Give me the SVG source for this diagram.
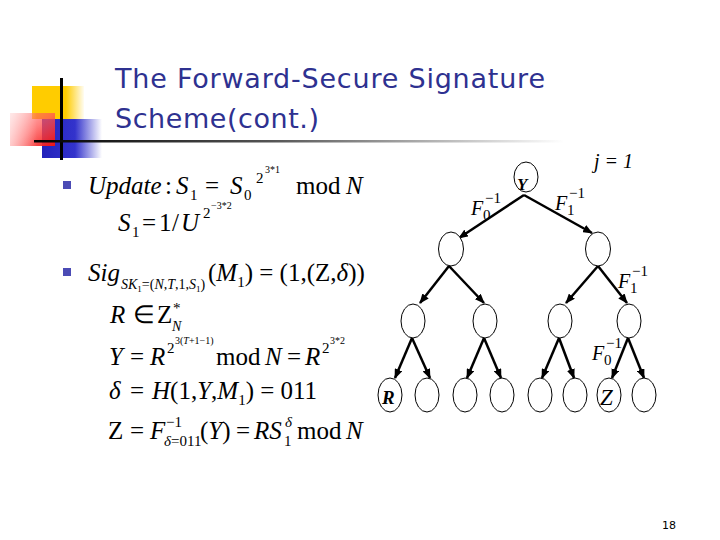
<svg xmlns="http://www.w3.org/2000/svg" width="720" height="540" viewBox="0 0 720 540">
<defs>
<linearGradient id="gY" x1="0" x2="1" y1="0" y2="0"><stop offset="0" stop-color="#ffcc00"/><stop offset="0.65" stop-color="#ffcc00"/><stop offset="1" stop-color="#ffcc00" stop-opacity="0.05"/></linearGradient>
<linearGradient id="gB" x1="0" x2="1" y1="0" y2="0"><stop offset="0" stop-color="#2222bb"/><stop offset="0.55" stop-color="#3333cc"/><stop offset="1" stop-color="#3333cc" stop-opacity="0"/></linearGradient>
<linearGradient id="gR" x1="0" x2="1" y1="0" y2="1"><stop offset="0" stop-color="#ff6666" stop-opacity="0.35"/><stop offset="0.5" stop-color="#ff5555" stop-opacity="0.75"/><stop offset="1" stop-color="#ee1111"/></linearGradient>
<linearGradient id="gR2" x1="0" x2="1" y1="0" y2="0"><stop offset="0" stop-color="#fff" stop-opacity="0.6"/><stop offset="0.6" stop-color="#fff" stop-opacity="0"/></linearGradient>
<linearGradient id="gL" x1="0" x2="1" y1="0" y2="0"><stop offset="0" stop-color="#000"/><stop offset="0.45" stop-color="#555"/><stop offset="1" stop-color="#fff"/></linearGradient>
<marker id="ah" viewBox="0 0 10 8" refX="9" refY="4" markerWidth="10" markerHeight="8" markerUnits="userSpaceOnUse" orient="auto"><path d="M0,0 L10,4 L0,8 z" fill="#000"/></marker>
<style>
.t{font-family:"Liberation Serif","Times New Roman",serif;font-size:25px;fill:#000}
.i{font-style:italic}
.s{font-size:15px}
.ss{font-size:10px}
.b{font-size:14px}
.e{fill:#fff;stroke:#000;stroke-width:1}
.c line{stroke:#000;stroke-width:2.5;marker-end:url(#ah)}
.lb{font-family:"Liberation Serif","Times New Roman",serif;font-size:20px;font-style:italic}
.title{font-family:"DejaVu Sans",Verdana,sans-serif;font-size:27px;fill:#2e3190}
</style>
</defs>
<rect width="720" height="540" fill="#fff"/>
<g id="logo">
<rect x="32" y="86" width="52" height="33" fill="url(#gY)"/>
<rect x="42" y="119" width="60" height="39" fill="url(#gB)"/>
<rect x="10" y="113" width="45" height="33" fill="url(#gR)"/>
<rect x="10" y="113" width="45" height="33" fill="url(#gR2)"/>
<rect x="60" y="78" width="3" height="82" fill="#000"/>
<rect x="34" y="140" width="530" height="2.5" fill="url(#gL)"/>
</g>
<g id="title">
<text class="title" x="115" y="88" textLength="430">The Forward-Secure Signature</text>
<text class="title" x="115" y="128" textLength="204">Scheme(cont.)</text>
</g>
<g id="formulas">
<rect x="63" y="181" width="8" height="8" fill="#4b4bb5"/>
<text class="t i" x="88" y="194">Update</text>
<text class="t" x="165" y="194">:</text>
<text class="t i" x="176" y="194">S</text><text class="t s" x="190" y="200">1</text>
<text class="t" x="205" y="194">=</text>
<text class="t i" x="230" y="194">S</text><text class="t s" x="244" y="200">0</text>
<text class="t s" x="256" y="183">2</text><text class="t ss" x="265" y="173">3*1</text>
<text class="t" x="296" y="194">mod</text>
<text class="t i" x="346" y="194">N</text>

<text class="t i" x="118" y="231">S</text><text class="t s" x="132" y="237">1</text>
<text class="t" x="142" y="231">=</text>
<text class="t" x="159" y="231">1</text>
<text class="t" x="172" y="231">/</text>
<text class="t i" x="181" y="231">U</text>
<text class="t s" x="203" y="218">2</text><text class="t ss" x="211" y="209">−3*2</text>

<rect x="63" y="268" width="8" height="8" fill="#4b4bb5"/>
<text class="t i" x="88" y="281">Sig</text>
<text class="t b" x="121" y="289"><tspan class="i">SK</tspan><tspan font-size="9" dy="3">1</tspan><tspan dy="-3">=(</tspan><tspan class="i">N</tspan>,<tspan class="i">T</tspan>,1,<tspan class="i">S</tspan><tspan font-size="9" dy="3">1</tspan><tspan dy="-3">)</tspan></text>
<text class="t" x="208" y="281">(<tspan class="i">M</tspan><tspan class="s" dy="6">1</tspan><tspan dy="-6">) = (1,(Z,</tspan><tspan class="i">δ</tspan>))</text>

<text class="t i" x="110" y="323">R</text>
<text class="t" x="133" y="323">∈</text>
<text class="t" x="157" y="323">Z</text>
<text class="t s" x="173" y="313">*</text>
<text class="t b i" x="172" y="331">N</text>

<text class="t i" x="109" y="365">Y</text>
<text class="t" x="130" y="365">=</text>
<text class="t i" x="150" y="365">R</text>
<text class="t s" x="167" y="353">2</text><text class="t ss" x="175" y="344">3(<tspan class="i">T</tspan>+1−1)</text>
<text class="t" x="216" y="365">mod</text>
<text class="t i" x="265" y="365">N</text>
<text class="t" x="287" y="365">=</text>
<text class="t i" x="305" y="365">R</text>
<text class="t s" x="322" y="353">2</text><text class="t ss" x="330" y="344">3*2</text>

<text class="t i" x="109" y="399">δ</text>
<text class="t" x="130" y="399">=</text>
<text class="t" x="152" y="399"><tspan class="i">H</tspan>(1,<tspan class="i">Y</tspan>,<tspan class="i">M</tspan><tspan class="s" dy="6">1</tspan><tspan dy="-6">) = 011</tspan></text>

<text class="t" x="108" y="439">Z</text>
<text class="t" x="130" y="439">=</text>
<text class="t i" x="150" y="439">F</text>
<text class="t s" x="166" y="427">−1</text>
<text class="t s" x="164" y="446"><tspan class="i">δ</tspan>=011</text>
<text class="t" x="200" y="439">(<tspan class="i">Y</tspan>)</text>
<text class="t" x="236" y="439">=</text>
<text class="t i" x="254" y="439">RS</text>
<text class="t s" x="284" y="446">1</text>
<text class="t s i" x="285" y="427">δ</text>
<text class="t" x="297" y="439">mod</text>
<text class="t i" x="346" y="439">N</text>
</g>
<g id="connectors" class="c">
<line x1="524" y1="195" x2="459" y2="238"/>
<line x1="524" y1="195" x2="592" y2="233"/>
<line x1="449" y1="266" x2="420" y2="303"/>
<line x1="449" y1="266" x2="484" y2="303"/>
<line x1="598" y1="266" x2="566" y2="303"/>
<line x1="598" y1="266" x2="627" y2="303"/>
<line x1="412" y1="338" x2="395" y2="378"/>
<line x1="412" y1="338" x2="430" y2="378"/>
<line x1="484" y1="338" x2="467" y2="378"/>
<line x1="484" y1="338" x2="501" y2="378"/>
<line x1="559" y1="338" x2="542" y2="378"/>
<line x1="559" y1="338" x2="574" y2="378"/>
<line x1="628" y1="338" x2="612" y2="378"/>
<line x1="628" y1="338" x2="644" y2="378"/>
</g>
<g id="nodeY"><ellipse class="e" cx="526" cy="177" rx="12" ry="15"/><text x="517" y="190" font-family="Liberation Serif,serif" font-size="17" font-weight="bold" font-style="italic">Y</text></g>
<g id="n1a"><ellipse class="e" cx="451" cy="249" rx="12.5" ry="17"/></g>
<g id="n1b"><ellipse class="e" cx="598" cy="249" rx="12.5" ry="17"/></g>
<g id="n2a"><ellipse class="e" cx="413" cy="321" rx="12" ry="17"/></g>
<g id="n2b"><ellipse class="e" cx="485" cy="321" rx="12" ry="17"/></g>
<g id="n2c"><ellipse class="e" cx="560" cy="321" rx="12" ry="17"/></g>
<g id="n2d"><ellipse class="e" cx="629" cy="321" rx="12" ry="17"/></g>
<g id="nR"><ellipse class="e" cx="390" cy="395" rx="12" ry="17"/><text x="382" y="404" font-family="Liberation Serif,serif" font-size="19" font-weight="bold" font-style="italic">R</text></g>
<g id="n3b"><ellipse class="e" cx="427" cy="395" rx="12" ry="17"/></g>
<g id="n3c"><ellipse class="e" cx="465" cy="395" rx="12" ry="17"/></g>
<g id="n3d"><ellipse class="e" cx="502" cy="395" rx="12" ry="17"/></g>
<g id="n3e"><ellipse class="e" cx="540" cy="395" rx="12" ry="17"/></g>
<g id="n3f"><ellipse class="e" cx="575" cy="395" rx="12" ry="17"/></g>
<g id="nZ"><ellipse class="e" cx="609" cy="395" rx="12" ry="17"/><text x="600" y="405" font-family="Liberation Serif,serif" font-size="23" font-style="italic">Z</text></g>
<g id="n3h"><ellipse class="e" cx="644" cy="395" rx="12" ry="17"/></g>
<g id="labels">
<text class="lb" x="471" y="215">F</text><text class="t s" x="485" y="203">−1</text><text class="t s" x="483" y="220">0</text>
<text class="lb" x="555" y="210">F</text><text class="t s" x="569" y="198">−1</text><text class="t s" x="567" y="215">1</text>
<text class="lb" x="618" y="288">F</text><text class="t s" x="632" y="276">−1</text><text class="t s" x="630" y="293">1</text>
<text class="lb" x="592" y="360">F</text><text class="t s" x="606" y="348">−1</text><text class="t s" x="604" y="365">0</text>
<text class="lb" x="594" y="168" font-size="18">j = 1</text>
</g>
<text x="662" y="529" font-family="DejaVu Sans,sans-serif" font-size="11">18</text>
</svg>
